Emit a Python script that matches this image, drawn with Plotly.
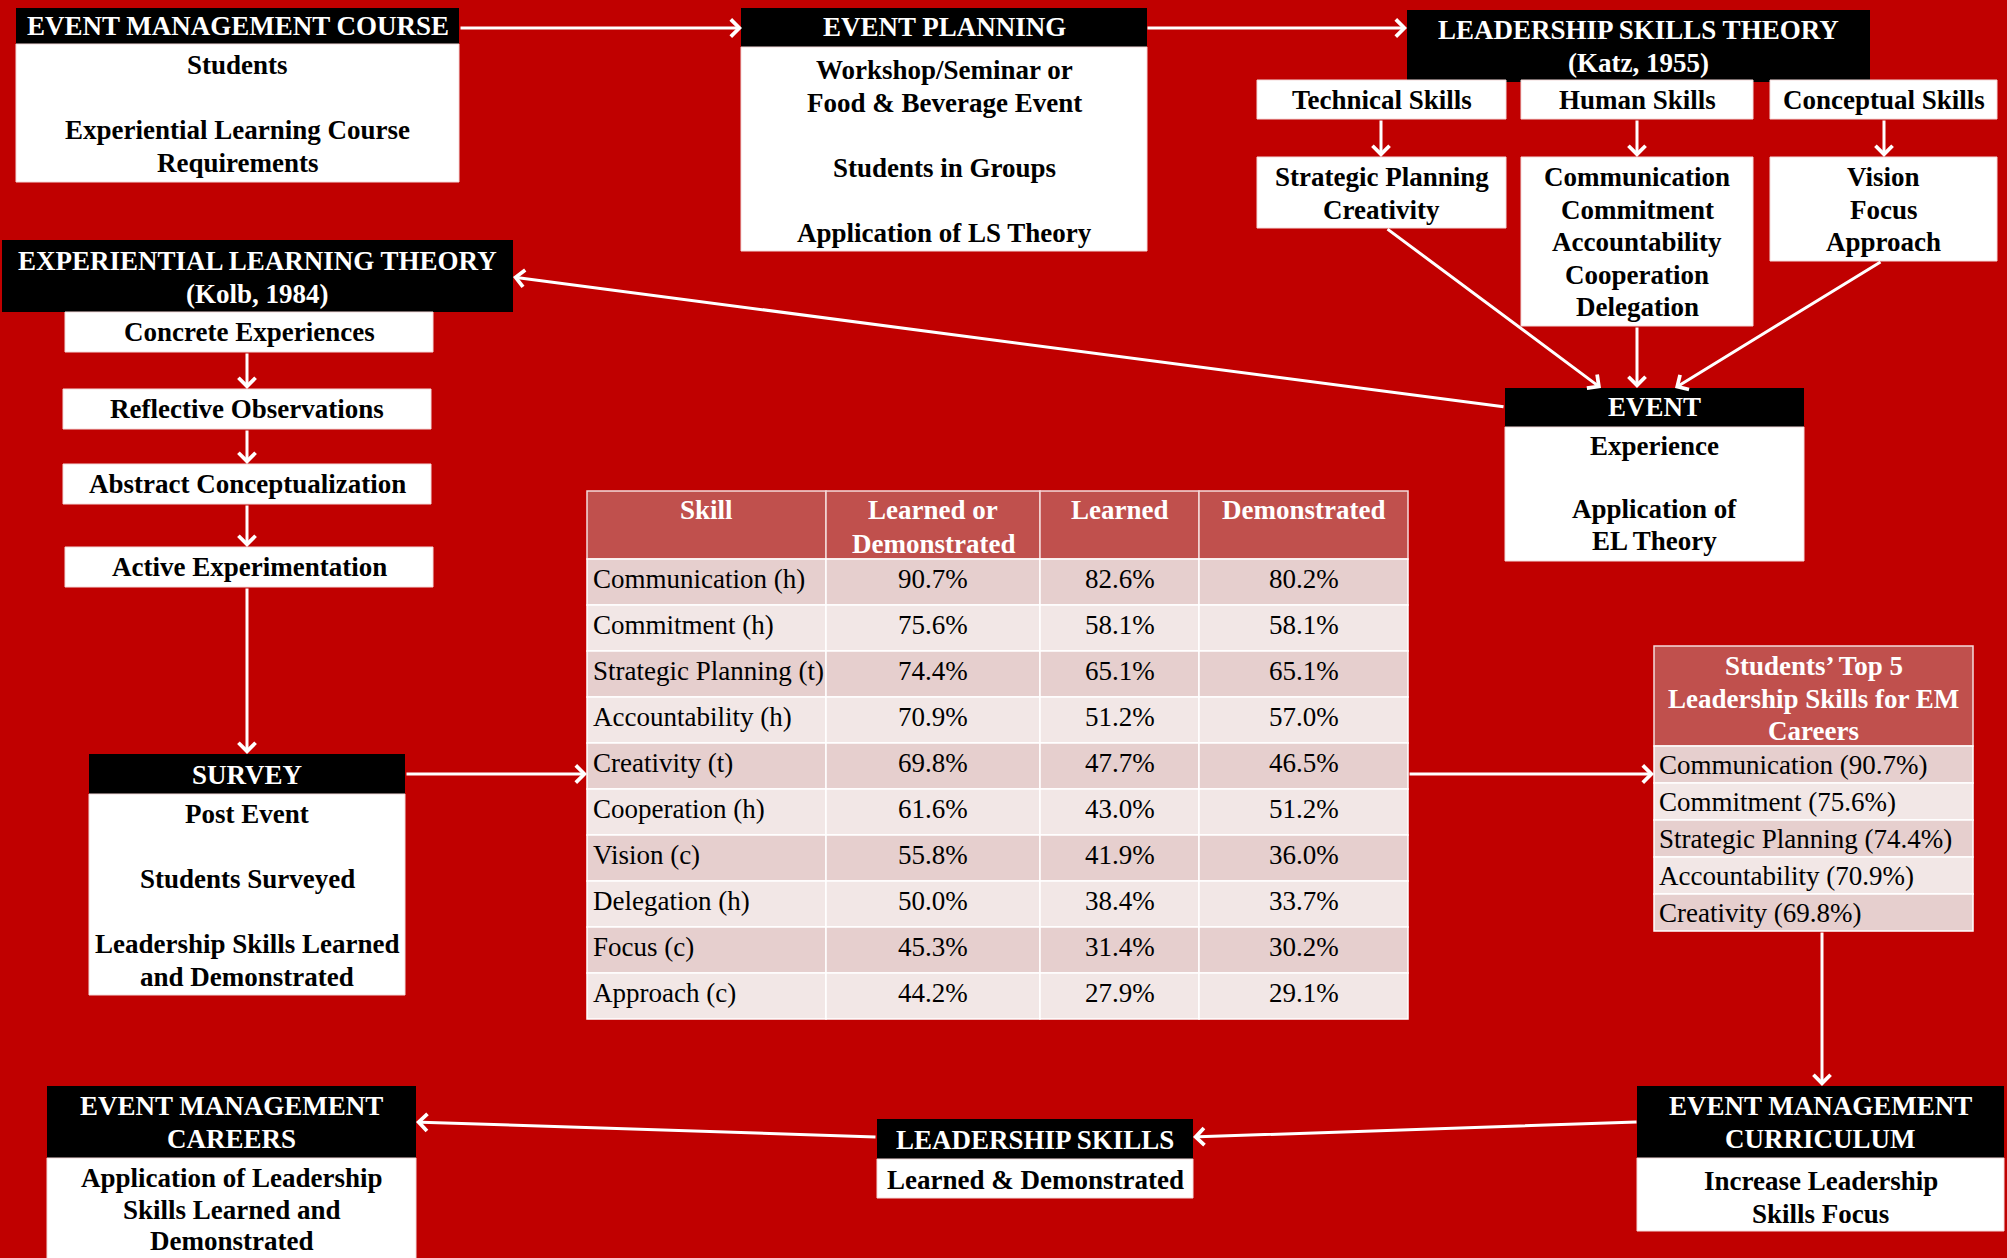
import plotly.graph_objects as go

# ---------------- data ----------------
skills = ["Communication (h)", "Commitment (h)", "Strategic Planning (t)", "Accountability (h)",
          "Creativity (t)", "Cooperation (h)", "Vision (c)", "Delegation (h)", "Focus (c)", "Approach (c)"]
learned_or_demonstrated = [90.7, 75.6, 74.4, 70.9, 69.8, 61.6, 55.8, 50.0, 45.3, 44.2]
learned = [82.6, 58.1, 65.1, 51.2, 47.7, 43.0, 41.9, 38.4, 31.4, 27.9]
demonstrated = [80.2, 58.1, 65.1, 57.0, 46.5, 51.2, 36.0, 33.7, 30.2, 29.1]
table_headers = [["Skill"], ["Learned or", "Demonstrated"], ["Learned"], ["Demonstrated"]]

top5_title = ["Students\u2019 Top 5", "Leadership Skills for EM", "Careers"]
top5_count = 5

emc_title = ["EVENT MANAGEMENT COURSE"]
emc_body = ["Students", "", "Experiential Learning Course", "Requirements"]
ep_title = ["EVENT PLANNING"]
ep_body = ["Workshop/Seminar or", "Food & Beverage Event", "", "Students in Groups", "", "Application of LS Theory"]
lst_title = ["LEADERSHIP SKILLS THEORY", "(Katz, 1955)"]
skill_types = ["Technical Skills", "Human Skills", "Conceptual Skills"]
skill_lists = [["Strategic Planning", "Creativity"],
               ["Communication", "Commitment", "Accountability", "Cooperation", "Delegation"],
               ["Vision", "Focus", "Approach"]]
elt_title = ["EXPERIENTIAL LEARNING THEORY", "(Kolb, 1984)"]
kolb_stages = ["Concrete Experiences", "Reflective Observations", "Abstract Conceptualization", "Active Experimentation"]
event_title = ["EVENT"]
event_body = ["Experience", "", "Application of", "EL Theory"]
survey_title = ["SURVEY"]
survey_body = ["Post Event", "", "Students Surveyed", "", "Leadership Skills Learned", "and Demonstrated"]
curr_title = ["EVENT MANAGEMENT", "CURRICULUM"]
curr_body = ["Increase Leadership", "Skills Focus"]
ls_title = ["LEADERSHIP SKILLS"]
ls_body = ["Learned & Demonstrated"]
careers_title = ["EVENT MANAGEMENT", "CAREERS"]
careers_body = ["Application of Leadership", "Skills Learned and", "Demonstrated"]

# ---------------- styles ----------------
BG = "#C00000"
HDR = "#C0504D"
ROW_DARK = "#E6CFCE"
ROW_LIGHT = "#F2E7E6"
FONT = "Liberation Serif, Times New Roman, serif"
FS = 27
LS = 32.5

shapes = []
annotations = []


def rect(x0, y0, x1, y1, fill, lc=None, lw=0):
    shapes.append(dict(type="rect", xref="x", yref="y", x0=x0, y0=y0, x1=x1, y1=y1,
                       fillcolor=fill, line=dict(width=lw, color=lc or fill), layer="above"))


def text_lines(lines, x, y_first, color, bold=True, size=FS, spacing=LS, xanchor="center"):
    for i, t in enumerate(lines):
        if not t:
            continue
        annotations.append(dict(x=x, y=y_first + i * spacing, xref="x", yref="y",
                                text=f"<b>{t}</b>" if bold else t, showarrow=False,
                                font=dict(family=FONT, size=size, color=color),
                                xanchor=xanchor, yanchor="middle"))


def arrow(x0, y0, x1, y1):
    annotations.append(dict(x=x1, y=y1, ax=x0, ay=y0, xref="x", yref="y", axref="x", ayref="y",
                            text="", showarrow=True, arrowhead=4, arrowsize=1.1, arrowwidth=3,
                            arrowcolor="white", standoff=0, startstandoff=0))


def box(x0, x1, ht, hb, title, bb, body, t_first, b_first, t_sp=LS, b_sp=LS):
    xc = (x0 + x1) / 2
    rect(x0, ht, x1, hb, "black")
    text_lines(title, xc, t_first, "white", spacing=t_sp)
    if body is not None:
        rect(x0, hb, x1, bb, "white", "#F4DADA", 1)
        text_lines(body, xc, b_first, "black", spacing=b_sp)


# ---------------- arrows / lines ----------------
arrow(459, 28, 742, 28)          # course -> planning
arrow(1146, 28, 1407, 28)        # planning -> LS theory
arrow(1505, 407, 513, 277)       # event -> EL theory
arrow(1386, 228, 1601, 388)      # technical list -> event
arrow(1637, 326, 1637, 388)      # human list -> event
arrow(1882, 261, 1675, 388)      # conceptual list -> event
for xa in (1381, 1637, 1884):
    arrow(xa, 119, xa, 157)
kolb_y = [(312, 352), (389, 429), (464, 504), (547, 587)]
for i in range(3):
    arrow(247, kolb_y[i][1], 247, kolb_y[i + 1][0])
arrow(247, 587, 247, 754)        # active -> survey
arrow(405, 774, 587, 774)        # survey -> table
arrow(1408, 774, 1654, 774)      # table -> top 5
arrow(1822, 931, 1822, 1086)     # top 5 -> curriculum
arrow(1638, 1122, 1193, 1137)    # curriculum -> leadership skills
arrow(877, 1137, 416, 1122)      # leadership skills -> careers

# ---------------- boxes ----------------
box(16, 459, 8, 44, emc_title, 182, emc_body, 26, 65)
box(741, 1147, 8, 47, ep_title, 251, ep_body, 27, 70)
box(1407, 1870, 10, 82, lst_title, None, None, 30, 0)

sk_x = [(1257, 1506), (1521, 1753), (1770, 1997)]
sk_bottom = [228, 326, 261]
for (x0, x1), t, lst, bb in zip(sk_x, skill_types, skill_lists, sk_bottom):
    rect(x0, 80, x1, 119, "white", "#F4DADA", 1)
    text_lines([t], (x0 + x1) / 2, 100, "black")
    rect(x0, 157, x1, bb, "white", "#F4DADA", 1)
    text_lines(lst, (x0 + x1) / 2, 177, "black")

box(2, 513, 240, 312, elt_title, None, None, 261, 0)
kolb_x = [(65, 433), (63, 431), (63, 431), (65, 433)]
for (x0, x1), (y0, y1), t in zip(kolb_x, kolb_y, kolb_stages):
    rect(x0, y0, x1, y1, "white", "#F4DADA", 1)
    text_lines([t], (x0 + x1) / 2, (y0 + y1) / 2, "black")

box(1505, 1804, 388, 427, event_title, 561, event_body, 407, 446, b_sp=31.5)
box(89, 405, 754, 794, survey_title, 995, survey_body, 775, 814)
box(1637, 2004, 1086, 1158, curr_title, 1231, curr_body, 1106, 1181)
box(877, 1193, 1119, 1159, ls_title, 1198, ls_body, 1140, 1180)
box(47, 416, 1086, 1158, careers_title, 1270, careers_body, 1106, 1178, t_sp=33, b_sp=31.5)

# ---------------- main table ----------------
col_edges = [587, 826, 1040, 1199, 1408]
t_top, hdr_h, row_h = 491, 68, 46
for c in range(4):
    rect(col_edges[c], t_top, col_edges[c + 1], t_top + hdr_h, HDR, "#F4DADA", 1.5)
    text_lines(table_headers[c], (col_edges[c] + col_edges[c + 1]) / 2, t_top + 19, "white", spacing=34)

columns = [skills,
           [f"{v:.1f}%" for v in learned_or_demonstrated],
           [f"{v:.1f}%" for v in learned],
           [f"{v:.1f}%" for v in demonstrated]]
for r in range(len(skills)):
    y0 = t_top + hdr_h + r * row_h
    fill = ROW_DARK if r % 2 == 0 else ROW_LIGHT
    yc = y0 + row_h / 2 - 3
    for c in range(4):
        rect(col_edges[c], y0, col_edges[c + 1], y0 + row_h, fill, "white", 1.5)
        if c == 0:
            text_lines([columns[c][r]], col_edges[0] + 4, yc, "black", bold=False, xanchor="left")
        else:
            text_lines([columns[c][r]], (col_edges[c] + col_edges[c + 1]) / 2, yc, "black", bold=False)

# ---------------- top 5 table ----------------
order = sorted(range(len(skills)), key=lambda i: -learned_or_demonstrated[i])[:top5_count]
top5_rows = [f"{skills[i].rsplit(' (', 1)[0]} ({learned_or_demonstrated[i]:.1f}%)" for i in order]
tx0, tx1, tt, th, trh = 1654, 1973, 646, 100, 37
rect(tx0, tt, tx1, tt + th, HDR, "#F4DADA", 1.5)
text_lines(top5_title, (tx0 + tx1) / 2, tt + 20, "white", spacing=32.5)
for r, t in enumerate(top5_rows):
    y0 = tt + th + r * trh
    rect(tx0, y0, tx1, y0 + trh, ROW_DARK if r % 2 == 0 else ROW_LIGHT, "white", 1.5)
    text_lines([t], tx0 + 3, y0 + trh / 2, "black", bold=False, xanchor="left")

# ---------------- figure ----------------
fig = go.Figure()
fig.add_trace(go.Scatter(x=[0, 2007], y=[0, 1258], mode="markers",
                         marker=dict(opacity=0), hoverinfo="skip", showlegend=False))
fig.update_layout(
    width=2007, height=1258, autosize=False,
    margin=dict(l=0, r=0, t=0, b=0),
    paper_bgcolor=BG, plot_bgcolor=BG,
    xaxis=dict(range=[0, 2007], visible=False, fixedrange=True),
    yaxis=dict(range=[1258, 0], visible=False, fixedrange=True),
    shapes=shapes, annotations=annotations, showlegend=False,
)
fig.write_html("out.html", config={"displayModeBar": False},
               post_script="document.body.style.margin='0';document.body.style.overflow='hidden';")
